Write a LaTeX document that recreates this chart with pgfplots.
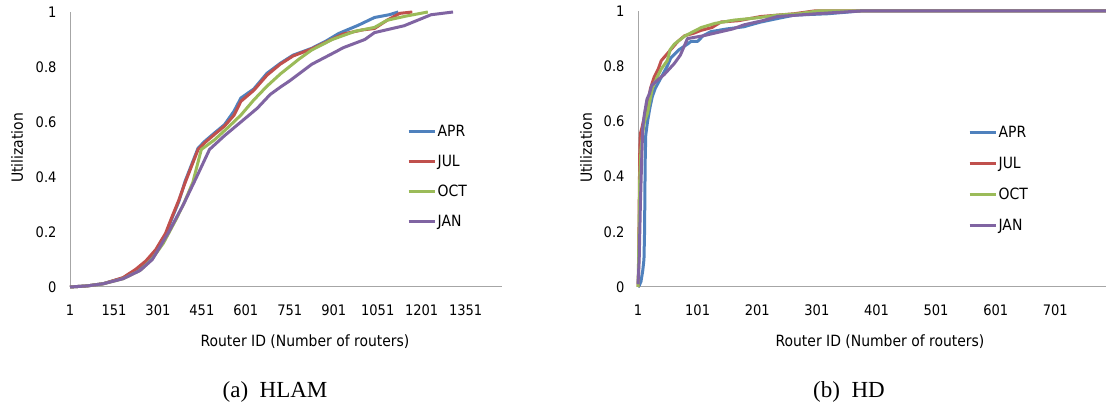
\documentclass[border=0pt]{standalone}
\usepackage{fontspec}
\setmainfont{Liberation Serif}
\newfontfamily\tah{DejaVu Sans Condensed}
\usepackage{pgfplots}
\pgfplotsset{compat=1.18}
\definecolor{cA}{HTML}{4F81BD}
\definecolor{cJ}{HTML}{C0504D}
\definecolor{cO}{HTML}{9BBB59}
\definecolor{cN}{HTML}{8064A2}
\newcommand{\tf}{\tah\fontsize{14.5}{14.5}\selectfont}
\newcommand{\lf}{\tah\fontsize{15.5}{15.5}\selectfont}
\pgfplotsset{
 myax/.style={
  scale only axis,
  axis x line*=bottom, axis y line*=left,
  axis line style={draw=black!35, line width=1pt, -},
  ymin=0, ymax=1,
  ytick={0,0.2,0.4,0.6,0.8,1},
  yticklabels={0,0.2,0.4,0.6,0.8,1},
  major tick length=0pt,
  tick label style={font=\tf},
  /pgf/number format/assume math mode=true,
  xticklabel style={yshift=-14pt},
  yticklabel style={xshift=-10pt},
  clip=false,
  every axis plot/.append style={line width=3pt, line join=round, mark=none},
  legend cell align=left,
  legend image code/.code={\draw[##1, line width=3pt] (0pt,0pt) -- (26pt,0pt);},
  legend style={draw=none, fill=none, inner sep=0pt, anchor=north west,
    font=\lf, column sep=1pt,
    nodes={inner sep=0.5pt, text height=11pt, text depth=0pt}},
 }
}
\begin{document}
\begin{tikzpicture}
\useasboundingbox (0,0) rectangle (1106pt,406pt);
\fill[white] (0,0) rectangle (1106pt,406pt);
\clip (0,0) rectangle (1106pt,406pt);

\begin{axis}[myax, at={(70pt,119pt)}, anchor=south west,
  width=432pt, height=275pt, xmin=1, xmax=1475,
  xtick={1,151,301,451,601,751,901,1051,1201,1351},
  xticklabels={1,151,301,451,601,751,901,1051,1201,1351},
  legend style={at={(rel axis cs:0.78,0.589)}, row sep=18pt}]
\addplot[cA] coordinates {(1,0) (60,0.004) (115,0.012) (182,0.033) (226,0.06) (260,0.09) (293,0.13) (327,0.19) (349,0.25) (372,0.31) (394,0.385) (416,0.445) (438,0.505) (461,0.53) (494,0.56) (528,0.59) (561,0.64) (584,0.687) (628,0.72) (673,0.777) (718,0.813) (762,0.843) (826,0.868) (874,0.894) (918,0.922) (985,0.952) (1040,0.98) (1090,0.99) (1121,1)};
\addlegendentry{APR}
\addplot[cJ] coordinates {(1,0) (60,0.004) (115,0.012) (182,0.034) (226,0.065) (260,0.095) (293,0.135) (327,0.195) (349,0.255) (372,0.315) (394,0.38) (416,0.44) (438,0.5) (461,0.525) (494,0.555) (528,0.585) (561,0.625) (584,0.675) (628,0.715) (673,0.77) (718,0.81) (762,0.84) (826,0.866) (874,0.89) (933,0.92) (1000,0.935) (1040,0.94) (1083,0.97) (1126,0.995) (1169,1)};
\addlegendentry{JUL}
\addplot[cO] coordinates {(1,0) (60,0.004) (115,0.012) (182,0.03) (240,0.06) (280,0.1) (320,0.16) (360,0.24) (388,0.3) (420,0.38) (449,0.5) (494,0.535) (540,0.58) (584,0.625) (628,0.68) (673,0.73) (719,0.775) (784,0.83) (826,0.862) (896,0.9) (974,0.93) (1040,0.944) (1083,0.97) (1147,0.985) (1222,1)};
\addlegendentry{OCT}
\addplot[cN] coordinates {(1,0) (60,0.004) (115,0.012) (182,0.03) (240,0.06) (282,0.1) (338,0.2) (388,0.3) (433,0.4) (477,0.5) (528,0.55) (584,0.6) (640,0.65) (684,0.7) (719,0.727) (751,0.75) (826,0.81) (907,0.855) (933,0.87) (1007,0.9) (1040,0.925) (1141,0.95) (1233,0.99) (1308,1)};
\addlegendentry{JAN}
\end{axis}

\begin{axis}[myax, at={(638pt,119pt)}, anchor=south west,
  width=468pt, height=276pt, xmin=1, xmax=786,
  xtick={1,101,201,301,401,501,601,701},
  xticklabels={1,101,201,301,401,501,601,701},
  legend style={at={(rel axis cs:0.705,0.583)}, row sep=19pt}]
\addplot[cA] coordinates {(1,0) (3,0.005) (6,0.02) (9,0.06) (11,0.1) (12,0.2) (13,0.45) (14,0.55) (17,0.6) (21,0.65) (25,0.69) (30,0.72) (40,0.76) (50,0.8) (56,0.83) (70,0.86) (84,0.88) (90,0.89) (101,0.89) (110,0.91) (123,0.925) (150,0.935) (179,0.943) (190,0.95) (207,0.96) (240,0.975) (263,0.985) (319,0.99) (374,1) (786,1)};
\addlegendentry{APR}
\addplot[cJ] coordinates {(1,0) (2,0.05) (3,0.3) (4,0.5) (5,0.556) (8,0.58) (12,0.62) (17,0.66) (22,0.72) (28,0.76) (35,0.79) (40,0.82) (48,0.84) (56,0.86) (68,0.89) (79,0.91) (95,0.92) (107,0.93) (125,0.94) (140,0.96) (170,0.965) (207,0.98) (263,0.99) (296,1) (786,1)};
\addlegendentry{JUL}
\addplot[cO] coordinates {(1,0) (2,0.1) (4,0.4) (6,0.5) (9,0.56) (12,0.6) (17,0.63) (25,0.72) (33,0.76) (40,0.79) (50,0.82) (55,0.86) (62,0.88) (80,0.91) (107,0.94) (130,0.955) (162,0.967) (200,0.975) (235,0.985) (270,0.99) (302,1) (786,1)};
\addlegendentry{OCT}
\addplot[cN] coordinates {(1,0.01) (3,0.1) (5,0.3) (7,0.45) (9,0.58) (12,0.63) (16,0.68) (20,0.7) (24,0.73) (34,0.75) (45,0.77) (62,0.81) (72,0.84) (80,0.88) (84,0.9) (110,0.91) (140,0.925) (160,0.935) (179,0.95) (210,0.965) (235,0.98) (300,0.99) (374,1) (786,1)};
\addlegendentry{JAN}
\end{axis}

\node[font=\lf, rotate=90] at (17pt,258pt) {Utilization};
\node[font=\lf, rotate=90] at (586pt,258pt) {Utilization};
\node[font=\lf, anchor=base] at (305pt,59pt) {Router ID (Number of routers)};
\node[font=\lf, anchor=base] at (880pt,59pt) {Router ID (Number of routers)};
\node[font=\fontsize{23}{23}\selectfont, anchor=base] at (275pt,8pt) {(a)\ \ HLAM};
\node[font=\fontsize{23}{23}\selectfont, anchor=base] at (849pt,8pt) {(b)\ \ HD};
\end{tikzpicture}
\end{document}
